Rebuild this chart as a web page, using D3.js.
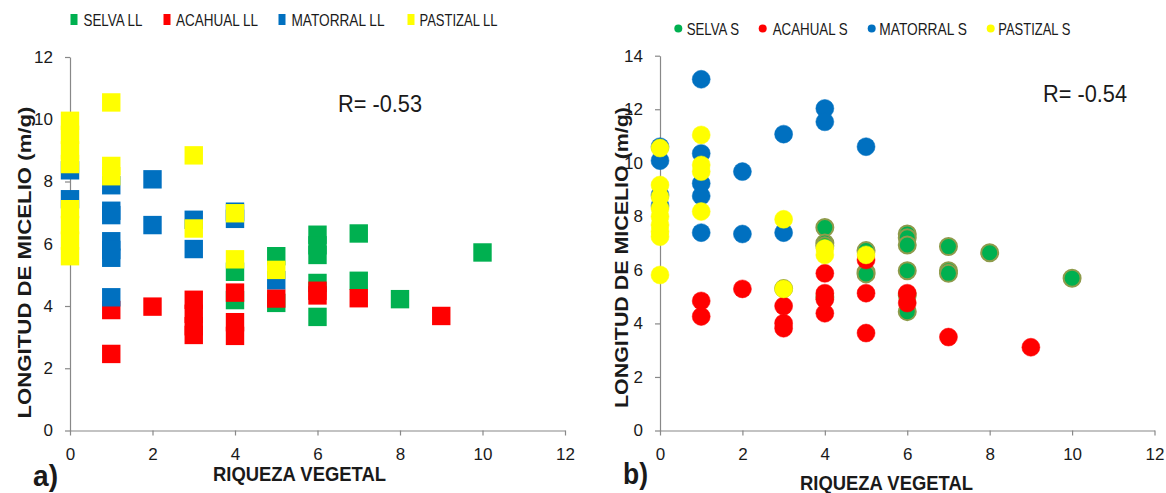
<!DOCTYPE html>
<html>
<head>
<meta charset="utf-8">
<script src="https://cdn.jsdelivr.net/npm/d3@7"></script>
<style>
  html, body { margin: 0; padding: 0; background: #fff; }
  svg { display: block; }
  text { font-family: "Liberation Sans", Arial, sans-serif; fill: #1a1a1a; }
</style>
</head>
<body>
<svg id="chart" width="1166" height="493"></svg>
<script>
// ---------- DATA (x = riqueza vegetal, y = longitud de micelio m/g) ----------
const xTicks = [0, 2, 4, 6, 8, 10, 12];
const yTicksA = [0, 2, 4, 6, 8, 10, 12];
const yTicksB = [0, 2, 4, 6, 8, 10, 12, 14];

const seriesNamesA = ["SELVA LL", "ACAHUAL LL", "MATORRAL LL", "PASTIZAL LL"];
const seriesNamesB = ["SELVA S", "ACAHUAL S", "MATORRAL S", "PASTIZAL S"];

// Panel a) (squares)
const selvaLL = [[4,5.1],[4,4.19],[5,5.6],[5,4.1],[6,6.29],[6,5.95],[6,5.64],[6,4.74],[6,3.65],[7,6.33],[7,4.81],[8,4.22],[10,5.72]];
const acahualLL = [[1,3.87],[1,2.46],[2,3.98],[3,4.2],[3,3.75],[3,3.35],[3,3.07],[4,4.43],[4,3.48],[4,3.04],[5,4.24],[6,4.49],[6,4.34],[7,4.25],[9,3.68]];
const matorralLL = [[0,8.36],[0,7.43],[1,7.88],[1,7.06],[1,6.92],[1,6.08],[1,5.8],[1,5.55],[1,4.28],[2,8.07],[2,6.6],[3,6.77],[3,5.83],[4,7.03],[4,6.8],[5,4.83]];
const pastizalLL = [[0,9.95],[0,9.5],[0,9.0],[0,8.56],[0,7.11],[0,6.6],[0,6.1],[0,5.6],[1,10.54],[1,8.5],[1,8.17],[3,8.84],[3,6.49],[4,6.98],[4,5.5],[5,5.16]];

// Panel b) (circles)
const selvaS = [[3,5.3],[4,7.58],[4,7.0],[4,6.9],[4,4.98],[5,6.72],[5,5.91],[5,5.85],[6,7.34],[6,7.2],[6,6.93],[6,5.97],[6,5.05],[6,4.44],[7,6.87],[7,5.97],[7,5.87],[8,6.64],[10,5.69]];
const acahualS = [[1,4.84],[1,4.26],[2,5.29],[3,4.65],[3,4.01],[3,3.82],[4,5.87],[4,5.13],[4,4.9],[4,4.38],[5,6.37],[5,5.13],[5,3.64],[6,5.13],[6,4.76],[7,3.49],[9,3.11]];
const matorralS = [[0,10.6],[0,10.08],[0,8.8],[0,8.4],[1,13.12],[1,10.35],[1,9.23],[1,8.76],[1,7.39],[2,9.67],[2,7.34],[3,11.07],[3,7.39],[4,12.03],[4,11.53],[5,10.6]];
const pastizalS = [[0,10.55],[0,9.17],[0,8.73],[0,8.3],[0,7.99],[0,7.68],[0,7.43],[0,7.24],[0,5.81],[1,11.04],[1,9.92],[1,9.67],[1,8.18],[3,7.89],[3,5.29],[4,6.8],[4,6.56],[5,6.56]];

const rA = "R= -0.53", rB = "R= -0.54";

// ---------- STYLE ----------
const colors = ["#00B050", "#FF0000", "#0070C0", "#FFFF00"];
const axisColor = "#888888";

const svg = d3.select("#chart");

function drawAxes(x, y, yTicks) {
  const gx = svg.append("g").attr("transform", `translate(0,${y(0)})`)
    .call(d3.axisBottom(x).tickValues(xTicks).tickSize(5).tickSizeOuter(0).tickPadding(12));
  const gy = svg.append("g").attr("transform", `translate(${x(0)},0)`)
    .call(d3.axisLeft(y).tickValues(yTicks).tickSize(5).tickSizeOuter(0).tickPadding(12));
  [gx, gy].forEach(g => {
    g.select(".domain").attr("stroke", axisColor).attr("stroke-width", 1.2);
    g.selectAll(".tick line").attr("stroke", axisColor).attr("stroke-width", 1.2);
    g.selectAll(".tick text").attr("font-size", 17).attr("fill", "#222")
      .attr("font-family", "'Liberation Sans', Arial, sans-serif");
  });
}

// ---------- PANEL A ----------
const xA = d3.scaleLinear().domain([0, 12]).range([70, 565]);
const yA = d3.scaleLinear().domain([0, 12]).range([430.5, 57]);
drawAxes(xA, yA, yTicksA);

const sq = 18.4;
[selvaLL, acahualLL, matorralLL, pastizalLL].forEach((data, i) => {
  svg.append("g").selectAll("rect").data(data).join("rect")
    .attr("x", d => xA(d[0]) - sq / 2)
    .attr("y", d => yA(d[1]) - sq / 2)
    .attr("width", sq).attr("height", sq)
    .attr("fill", colors[i]);
});

// Legend A
const legA = [{x: 70.5, tx: 83.5, w: 59}, {x: 163.5, tx: 176, w: 82}, {x: 278.5, tx: 291.5, w: 93}, {x: 407.5, tx: 419.5, w: 78}];
legA.forEach((l, i) => {
  svg.append("rect").attr("x", l.x).attr("y", 14).attr("width", 7).attr("height", 11).attr("fill", colors[i]);
  svg.append("text").attr("x", l.tx).attr("y", 26).attr("font-size", 17)
    .attr("textLength", l.w).attr("lengthAdjust", "spacingAndGlyphs").text(seriesNamesA[i]);
});

svg.append("text").attr("x", 338).attr("y", 111.5).attr("font-size", 23)
  .attr("textLength", 84).attr("lengthAdjust", "spacingAndGlyphs").text(rA);

svg.append("text").attr("transform", "translate(31,262.5) rotate(-90)")
  .attr("text-anchor", "middle").attr("font-size", 19).attr("font-weight", "bold")
  .attr("textLength", 312).attr("lengthAdjust", "spacingAndGlyphs").text("LONGITUD DE MICELIO (m/g)");
svg.append("text").attr("x", 213).attr("y", 481).attr("font-size", 20).attr("font-weight", "bold")
  .attr("textLength", 173).attr("lengthAdjust", "spacingAndGlyphs").text("RIQUEZA VEGETAL");
svg.append("text").attr("x", 33).attr("y", 486).attr("font-size", 29).attr("font-weight", "bold")
  .attr("textLength", 25).attr("lengthAdjust", "spacingAndGlyphs").text("a)");

// ---------- PANEL B ----------
const xB = d3.scaleLinear().domain([0, 12]).range([660, 1154.5]);
const yB = d3.scaleLinear().domain([0, 14]).range([430.5, 55.7]);
drawAxes(xB, yB, yTicksB);

const rad = 9;
[selvaS, acahualS, matorralS, pastizalS].forEach((data, i) => {
  svg.append("g").selectAll("circle").data(data).join("circle")
    .attr("cx", d => xB(d[0]))
    .attr("cy", d => yB(d[1]))
    .attr("r", i === 0 ? rad - 0.5 : rad)
    .attr("fill", colors[i])
    .attr("stroke", i === 0 ? "#8E9B4B" : colors[i])
    .attr("stroke-width", i === 0 ? 2 : 0.5);
});

const legB = [{cx: 678.3, tx: 686.7, w: 52.5}, {cx: 762.7, tx: 772.7, w: 75}, {cx: 871.7, tx: 879.3, w: 87.5}, {cx: 990.7, tx: 998.3, w: 72}];
legB.forEach((l, i) => {
  svg.append("circle").attr("cx", l.cx).attr("cy", 28.5).attr("r", 4).attr("fill", colors[i]);
  svg.append("text").attr("x", l.tx).attr("y", 34.5).attr("font-size", 17)
    .attr("textLength", l.w).attr("lengthAdjust", "spacingAndGlyphs").text(seriesNamesB[i]);
});

svg.append("text").attr("x", 1043).attr("y", 101.5).attr("font-size", 23)
  .attr("textLength", 84).attr("lengthAdjust", "spacingAndGlyphs").text(rB);

svg.append("text").attr("transform", "translate(628,257.5) rotate(-90)")
  .attr("text-anchor", "middle").attr("font-size", 19).attr("font-weight", "bold")
  .attr("textLength", 301).attr("lengthAdjust", "spacingAndGlyphs").text("LONGITUD DE MICELIO (m/g)");
svg.append("text").attr("x", 800).attr("y", 490).attr("font-size", 20).attr("font-weight", "bold")
  .attr("textLength", 173).attr("lengthAdjust", "spacingAndGlyphs").text("RIQUEZA VEGETAL");
svg.append("text").attr("x", 623).attr("y", 484).attr("font-size", 29).attr("font-weight", "bold")
  .attr("textLength", 25).attr("lengthAdjust", "spacingAndGlyphs").text("b)");
</script>
</body>
</html>
